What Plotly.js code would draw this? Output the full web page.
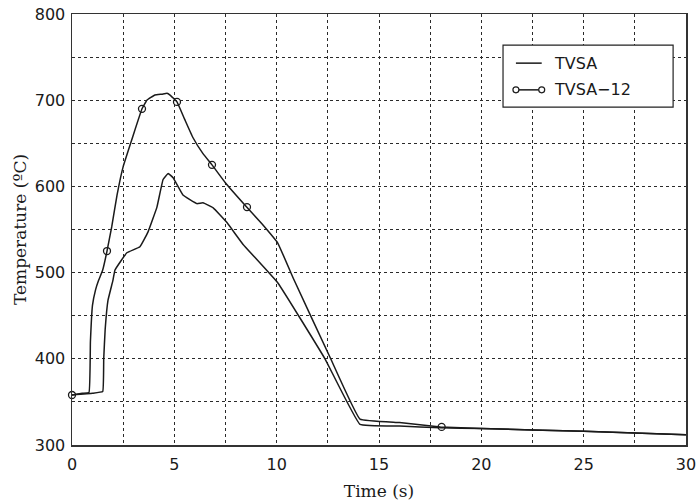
<!DOCTYPE html>
<html>
<head>
<meta charset="utf-8">
<script src="https://cdn.plot.ly/plotly-3.0.1.min.js"></script>
<style>html,body{margin:0;padding:0;background:#fff;}#chart{width:700px;height:501px;}</style>
</head>
<body>
<div id="chart"></div>
<script>
// TVSA (no markers)
const tvsaTime = [0, 1.0, 1.5, 1.55, 1.62, 1.76, 2.0, 2.1, 2.68, 3.32, 3.71, 4.15, 4.45, 4.7, 4.94, 5.42, 6.1, 6.4, 6.9, 7.57, 8.35, 10.06, 12.36, 14.07, 16, 18, 20, 25, 30];
const tvsaTemp = [358, 360, 362, 400, 434, 468, 491, 503, 523, 530, 547, 576, 608, 615, 610, 590, 580, 581, 575, 558, 533, 488, 400, 324, 322, 320, 319, 316, 312];
// TVSA-12 line
const tvsa12Time = [0, 0.5, 0.83, 0.9, 1.0, 1.15, 1.3, 1.5, 1.71, 1.94, 2.2, 2.5, 3.0, 3.42, 3.66, 4.05, 4.4, 4.64, 4.79, 5.13, 5.5, 5.9, 6.4, 6.84, 7.5, 8.5, 9.3, 10.06, 10.8, 12.64, 14.07, 16, 18, 20, 25, 30];
const tvsa12Temp = [358, 360, 361, 420, 462, 480, 491, 503, 525, 553, 590, 623, 660, 690, 700, 706, 707, 708, 706, 698, 678, 657, 638, 625, 604, 577, 556, 534, 494, 400, 330, 326, 321, 319, 316, 312];
// TVSA-12 marker points
const markTime = [0, 1.71, 3.42, 5.13, 6.84, 8.55, 18.06];
const markTemp = [358, 525, 690, 698, 625, 576, 321];

const xTickVals = [0, 5, 10, 15, 20, 25, 30];
const yTickVals = [300, 400, 500, 600, 700, 800];
const seriesNames = ["TVSA", "TVSA\u221212"];

const ink = "#1a1a1a";
const gridC = "#2a2a2a";

const traces = [
  {x: tvsaTime, y: tvsaTemp, mode: "lines", name: seriesNames[0], line: {color: ink, width: 1.5, shape: "spline", smoothing: 0.25}, showlegend: false},
  {x: tvsa12Time, y: tvsa12Temp, mode: "lines", name: seriesNames[1], line: {color: ink, width: 1.5, shape: "spline", smoothing: 0.25}, showlegend: false},
  {x: markTime, y: markTemp, mode: "markers", name: seriesNames[1], marker: {symbol: "circle-open", size: 7, color: ink, line: {width: 1.3, color: ink}}, showlegend: false, cliponaxis: false}
];

// custom legend (paper coordinates)
const lx0 = 0.702, lx1 = 0.979, ly0 = 0.784, ly1 = 0.928;
const s0 = 0.723, s1 = 0.765, r1 = 0.886, r2 = 0.824;
const shapes = [
  {type: "rect", xref: "paper", yref: "paper", x0: lx0, x1: lx1, y0: ly0, y1: ly1, line: {color: "#222", width: 1.2}, fillcolor: "#fff", layer: "above"},
  {type: "line", xref: "paper", yref: "paper", x0: s0, x1: s1, y0: r1, y1: r1, line: {color: ink, width: 1.5}, layer: "above"},
  {type: "line", xref: "paper", yref: "paper", x0: s0, x1: s1, y0: r2, y1: r2, line: {color: ink, width: 1.5}, layer: "above"}
];
[s0, s1].forEach(function (sx) {
  shapes.push({type: "circle", xref: "paper", yref: "paper", xsizemode: "pixel", ysizemode: "pixel", xanchor: sx, yanchor: r2, x0: -3, x1: 3, y0: -3, y1: 3, line: {color: ink, width: 1.2}, fillcolor: "#fff", layer: "above"});
});

const annotations = [
  {xref: "paper", yref: "paper", x: 0.781, y: r1, xanchor: "left", yanchor: "middle", text: seriesNames[0], showarrow: false, font: {family: "DejaVu Sans", size: 16, color: ink}},
  {xref: "paper", yref: "paper", x: 0.781, y: r2, xanchor: "left", yanchor: "middle", text: seriesNames[1], showarrow: false, font: {family: "DejaVu Sans", size: 16, color: ink}}
];

const layout = {
  width: 700, height: 501,
  margin: {l: 72, r: 14, t: 14, b: 56},
  paper_bgcolor: "#fff", plot_bgcolor: "#fff",
  showlegend: false,
  xaxis: {
    range: [0, 30], tickvals: xTickVals, ticktext: xTickVals.map(String),
    showgrid: true, gridcolor: gridC, griddash: "dot", gridwidth: 1,
    minor: {dtick: 2.5, tick0: 0, showgrid: true, gridcolor: gridC, griddash: "dot", gridwidth: 1},
    showline: true, linecolor: "#333", linewidth: 1.5, mirror: true, zeroline: false,
    ticks: "", ticklabelstandoff: 4, tickfont: {family: "DejaVu Sans", size: 16, color: ink},
    title: {text: "Time (s)", font: {family: "DejaVu Serif", size: 17, color: ink}, standoff: 12}
  },
  yaxis: {
    range: [300, 800], tickvals: yTickVals, ticktext: yTickVals.map(String),
    showgrid: true, gridcolor: gridC, griddash: "dot", gridwidth: 1,
    minor: {dtick: 50, tick0: 300, showgrid: true, gridcolor: gridC, griddash: "dot", gridwidth: 1},
    showline: true, linecolor: "#333", linewidth: 1.5, mirror: true, zeroline: false,
    ticks: "", ticklabelstandoff: 2, tickfont: {family: "DejaVu Sans", size: 16, color: ink},
    title: {text: "Temperature (\u00baC)", font: {family: "DejaVu Serif", size: 17, color: ink}, standoff: 4}
  },
  shapes: shapes,
  annotations: annotations
};

Plotly.newPlot("chart", traces, layout, {staticPlot: true, displayModeBar: false});
</script>
</body>
</html>
